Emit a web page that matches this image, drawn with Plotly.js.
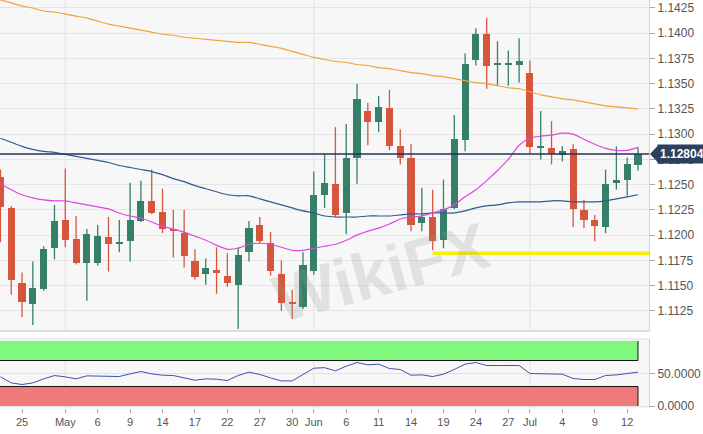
<!DOCTYPE html>
<html>
<head>
<meta charset="utf-8">
<script src="https://cdn.plot.ly/plotly-3.0.1.min.js"></script>
<style>html,body{margin:0;padding:0;background:#fff;}#chart{width:703px;height:434px;}</style>
</head>
<body>
<div id="chart"></div>
<script>
// Trading days (EUR/USD daily), 23 Apr 2019 – 15 Jul 2019
const dates = ['Apr 23','Apr 24','Apr 25','Apr 26','Apr 29','Apr 30','May 1','May 2','May 3','May 6',
  'May 7','May 8','May 9','May 10','May 13','May 14','May 15','May 16','May 17','May 20',
  'May 21','May 22','May 23','May 24','May 27','May 28','May 29','May 30','May 31','Jun 3',
  'Jun 4','Jun 5','Jun 6','Jun 7','Jun 10','Jun 11','Jun 12','Jun 13','Jun 14','Jun 17',
  'Jun 18','Jun 19','Jun 20','Jun 21','Jun 24','Jun 25','Jun 26','Jun 27','Jun 28','Jul 1',
  'Jul 2','Jul 3','Jul 4','Jul 5','Jul 8','Jul 9','Jul 10','Jul 11','Jul 12','Jul 15'];

const opens  = [1.1258,1.1227,1.1153,1.1132,1.1147,1.1187,1.1215,1.1196,1.1172,1.1172,
  1.1198,1.1191,1.1194,1.1214,1.1234,1.1223,1.1206,1.1202,1.1174,1.1162,
  1.1166,1.1160,1.1151,1.1183,1.1210,1.1192,1.1162,1.1134,1.1129,1.1165,
  1.1240,1.1251,1.1222,1.1276,1.1323,1.1312,1.1326,1.1288,1.1276,1.1212,
  1.1218,1.1195,1.1227,1.1294,1.1373,1.1399,1.1369,1.1369,1.1369,1.1361,
  1.1286,1.1286,1.1279,1.1285,1.1225,1.1215,1.1208,1.1252,1.1255,1.1269];
const highs  = [1.1265,1.1229,1.1163,1.1174,1.1189,1.1230,1.1266,1.1219,1.1206,1.1210,
  1.1218,1.1215,1.1252,1.1254,1.1265,1.1246,1.1225,1.1225,1.1186,1.1177,
  1.1188,1.1182,1.1188,1.1214,1.1218,1.1203,1.1175,1.1146,1.1183,1.1263,
  1.1280,1.1307,1.1310,1.1350,1.1331,1.1338,1.1344,1.1305,1.1290,1.1247,
  1.1245,1.1255,1.1319,1.1380,1.1405,1.1415,1.1392,1.1383,1.1395,1.1373,
  1.1323,1.1313,1.1288,1.1290,1.1235,1.1220,1.1265,1.1288,1.1277,1.1287];
const lows   = [1.1193,1.1141,1.1119,1.1111,1.1145,1.1176,1.1188,1.1171,1.1135,1.1170,
  1.1164,1.1183,1.1174,1.1213,1.1221,1.1202,1.1178,1.1168,1.1156,1.1151,
  1.1142,1.1149,1.1107,1.1174,1.1192,1.1160,1.1125,1.1117,1.1127,1.1161,
  1.1227,1.1218,1.1201,1.1251,1.1289,1.1302,1.1284,1.1270,1.1204,1.1204,
  1.1185,1.1187,1.1226,1.1283,1.1368,1.1345,1.1348,1.1348,1.1351,1.1281,
  1.1275,1.1270,1.1273,1.1208,1.1207,1.1194,1.1202,1.1245,1.1239,1.1264];
const closes = [1.1228,1.1156,1.1134,1.1148,1.1186,1.1214,1.1195,1.1172,1.1201,1.1199,
  1.1191,1.1193,1.1215,1.1234,1.1222,1.1206,1.1204,1.1179,1.1159,1.1167,
  1.1163,1.1153,1.1180,1.1207,1.1194,1.1165,1.1133,1.1132,1.1170,1.1240,
  1.1252,1.1220,1.1276,1.1335,1.1312,1.1327,1.1288,1.1276,1.1210,1.1218,
  1.1194,1.1226,1.1295,1.1370,1.1399,1.1368,1.1371,1.1371,1.1372,1.1287,
  1.1288,1.1280,1.1283,1.1226,1.1215,1.1209,1.1251,1.1255,1.1270,1.12804];

// Moving averages
const maOrange = [1.1433,1.1430,1.1427,1.1425,1.1422,1.1421,1.1419,1.1417,1.1415,1.1412,
  1.1409,1.1407,1.1405,1.1403,1.1401,1.1399,1.1398,1.1396,1.1395,1.1394,
  1.1393,1.1392,1.1391,1.1391,1.1389,1.1387,1.1385,1.1382,1.1379,1.1376,
  1.1374,1.1372,1.1371,1.1369,1.1368,1.1366,1.1365,1.1363,1.1361,1.1360,
  1.1358,1.1357,1.1355,1.1353,1.1351,1.1350,1.1348,1.1346,1.1345,1.1342,
  1.1339,1.1337,1.1335,1.1334,1.1332,1.1330,1.1328,1.1327,1.1326,1.1325];
const maBlue = [1.1296,1.1292,1.1288,1.1285,1.1283,1.1282,1.1280,1.1278,1.1276,1.1274,
  1.1272,1.1269,1.1267,1.1265,1.1263,1.1260,1.1256,1.1253,1.1249,1.1246,
  1.1243,1.1240,1.1239,1.1239,1.1236,1.1233,1.1230,1.1227,1.1224,1.1222,
  1.1219,1.1218,1.1218,1.1218,1.1219,1.1219,1.1219,1.1220,1.1221,1.1221,
  1.1222,1.1222,1.1222,1.1224,1.1227,1.1229,1.1230,1.1232,1.1233,1.1233,
  1.1233,1.1234,1.1234,1.1233,1.1233,1.1233,1.1234,1.1236,1.1238,1.1240];
const maMagenta = [1.1251,1.1245,1.1240,1.1237,1.1235,1.1234,1.1234,1.1232,1.1230,1.1228,
  1.1226,1.1222,1.1219,1.1217,1.1213,1.1209,1.1206,1.1203,1.1199,1.1195,
  1.1190,1.1186,1.1187,1.1191,1.1192,1.1191,1.1188,1.1185,1.1185,1.1187,
  1.1189,1.1191,1.1195,1.1200,1.1204,1.1207,1.1211,1.1216,1.1218,1.1219,
  1.1222,1.1225,1.1230,1.1238,1.1245,1.1254,1.1264,1.1275,1.1289,1.1296,
  1.1298,1.1299,1.1301,1.1300,1.1295,1.1290,1.1286,1.1284,1.1284,1.1287];

// Oscillator (lower panel)
const osc = [44.9,35.6,33.1,35.6,41.8,46.9,44.9,41.8,46.4,45.9,
  45.4,45.4,49.5,53.1,49.5,47.4,46.9,43.3,39.7,41.8,
  41.3,39.2,46.9,52.1,48.5,43.3,38.7,38.7,48.5,58.2,
  59.0,54.1,61.3,66.9,63.3,64.4,57.7,56.2,47.4,47.9,
  45.4,49.0,56.2,64.4,66.9,62.3,62.3,62.3,62.3,50.0,
  50.0,49.5,49.0,42.3,40.8,40.8,46.9,47.9,50.5,52.1];
const oscUpper = 70, oscLower = 30, oscMax = 100, oscMin = 0;

const tickIdx  = [2,6,9,12,15,18,21,24,27,29,32,35,38,41,44,47,49,52,55,58];
const tickText = ['25','May','6','9','14','17','22','27','30','Jun','6','11','14','19','24','27','Jul','4','9','12'];

const supportLevel = 1.1182;
const supportFromIdx = 40;

const UP = '#36806a', DOWN = '#d6553d';
const idx = dates.map((d, i) => i);
const last = idx.length - 1;

function bodies(up) {
  const xs = [], base = [], h = [], txt = [];
  idx.forEach(i => {
    const isUp = closes[i] >= opens[i];
    if (isUp !== up) return;
    xs.push(i);
    base.push(Math.min(opens[i], closes[i]));
    h.push(Math.max(Math.abs(closes[i] - opens[i]), 0.00018));
  });
  return {type: 'bar', x: xs, y: h, base: base, width: 0.66, xaxis: 'x', yaxis: 'y',
    marker: {color: up ? UP : DOWN, line: {width: 0}}, hoverinfo: 'skip', showlegend: false};
}
function wicks(up) {
  const xs = [], ys = [];
  idx.forEach(i => {
    const isUp = closes[i] >= opens[i];
    if (isUp !== up) return;
    xs.push(i, i, null);
    ys.push(lows[i], highs[i], null);
  });
  return {type: 'scatter', mode: 'lines', x: xs, y: ys, xaxis: 'x', yaxis: 'y',
    line: {color: up ? UP : DOWN, width: 1.3}, hoverinfo: 'skip', showlegend: false};
}
function ma(vals, color) {
  return {type: 'scatter', mode: 'lines', x: idx, y: vals, xaxis: 'x', yaxis: 'y',
    line: {color: color, width: 1.2, shape: 'spline', smoothing: 0.6}, hoverinfo: 'skip', showlegend: false};
}

const traces = [
  wicks(true), wicks(false), bodies(true), bodies(false),
  ma(maOrange, '#f2a23a'), ma(maBlue, '#2d5b94'), ma(maMagenta, '#dd48dd'),
  {type: 'scatter', mode: 'lines', x: idx, y: osc, xaxis: 'x', yaxis: 'y2',
   line: {color: '#4050b0', width: 1}, hoverinfo: 'skip', showlegend: false}
];

const lastClose = closes[last];
const monthIdx = tickIdx.filter((v, k) => isNaN(Number(tickText[k])));
const xStart = -0.04, xEnd = 60.02;

const shapes = [];
monthIdx.forEach(m => {
  shapes.push({type: 'line', layer: 'below', xref: 'x', yref: 'y domain', x0: m, x1: m, y0: 0, y1: 1, line: {color: '#e3e3e3', width: 1}});
  shapes.push({type: 'line', layer: 'below', xref: 'x', yref: 'y2 domain', x0: m, x1: m, y0: 0, y1: 1, line: {color: '#e3e3e3', width: 1}});
});
// oscillator bands
shapes.push({type: 'rect', layer: 'below', xref: 'x', yref: 'y2', x0: xStart, x1: last, y0: oscUpper, y1: oscMax, fillcolor: '#80f87e', line: {width: 0}});
shapes.push({type: 'rect', layer: 'below', xref: 'x', yref: 'y2', x0: xStart, x1: last, y0: oscMin, y1: oscLower, fillcolor: '#f07a7a', line: {width: 0}});
shapes.push({type: 'path', xref: 'x', yref: 'y2', path: `M ${xStart} ${oscUpper} L ${last} ${oscUpper} L ${last} ${oscMax}`, line: {color: '#111', width: 1}});
shapes.push({type: 'path', xref: 'x', yref: 'y2', path: `M ${xStart} ${oscLower} L ${last} ${oscLower} L ${last} ${oscMin}`, line: {color: '#111', width: 1}});
// panel separators
shapes.push({type: 'line', xref: 'paper', yref: 'y domain', x0: 0, x1: 1, y0: 0, y1: 0, line: {color: '#dcdcdc', width: 2}});
shapes.push({type: 'line', xref: 'paper', yref: 'y2 domain', x0: 0, x1: 1, y0: 1, y1: 1, line: {color: '#e0e0e0', width: 1}});
// support line
shapes.push({type: 'line', xref: 'x', yref: 'y', x0: supportFromIdx, x1: xEnd, y0: supportLevel, y1: supportLevel, line: {color: '#f7ef0a', width: 3.5}});
// last price line
shapes.push({type: 'line', xref: 'paper', yref: 'y', x0: 0, x1: 1, y0: lastClose, y1: lastClose, line: {color: '#1f3555', width: 1.3}});
// price tag arrow
shapes.push({type: 'path', xref: 'paper', yref: 'y', xsizemode: 'pixel', ysizemode: 'pixel', xanchor: 1, yanchor: lastClose,
  path: 'M 1 0 L 9 8.5 L 9 -8.5 Z', fillcolor: '#2b3f5e', line: {width: 0}});

const layout = {
  width: 703, height: 434,
  margin: {l: 0, r: 54, t: 0, b: 26, pad: 0},
  paper_bgcolor: '#ffffff', plot_bgcolor: '#f7f7f7',
  font: {family: 'Liberation Sans, Arial, sans-serif', size: 12, color: '#555'},
  showlegend: false, bargap: 0, barmode: 'overlay',
  xaxis: {domain: [0, 1], anchor: 'y2', range: [xStart, xEnd], tickvals: tickIdx, ticktext: tickText,
    showgrid: false, zeroline: false, ticks: 'outside', ticklen: 4, tickcolor: '#aaa',
    tickfont: {size: 11, color: '#555'}, showline: false, fixedrange: true},
  yaxis: {domain: [0.189, 1], side: 'right', anchor: 'x', range: [1.11052, 1.14329],
    tick0: 1.1125, dtick: 0.0025, tickformat: '.4f', ticks: 'outside', ticklen: 5, tickcolor: '#aaa',
    gridcolor: '#e5e5e5', gridwidth: 1, zeroline: false, showline: true, linecolor: '#d0d0d0',
    tickfont: {size: 12, color: '#555'}},
  yaxis2: {domain: [0, 0.169], side: 'right', anchor: 'x', range: [-3, 103],
    tickvals: [0, 50], ticktext: ['0.0000', '50.0000'], ticks: 'outside', ticklen: 5, tickcolor: '#aaa',
    gridcolor: '#e2e2e2', zeroline: false, showline: true, linecolor: '#d0d0d0',
    tickfont: {size: 12, color: '#555'}},
  shapes: shapes,
  annotations: [
    {xref: 'paper', yref: 'y', x: 1, y: lastClose, xanchor: 'left', yanchor: 'middle', xshift: 8,
     text: '<b>' + lastClose.toFixed(5) + '</b>', showarrow: false, bgcolor: '#2b3f5e',
     font: {color: '#ffffff', size: 12, family: 'Liberation Sans, Arial, sans-serif'}, borderpad: 2},
    {xref: 'x', yref: 'y', x: 35.2, y: 1.1164, text: '<b>WikiFX</b>', showarrow: false, textangle: -15,
     font: {size: 66, color: 'rgba(150,150,150,0.22)', family: 'Liberation Sans, Arial, sans-serif'}}
  ]
};

Plotly.newPlot('chart', traces, layout, {staticPlot: true, displayModeBar: false});
</script>
</body>
</html>
